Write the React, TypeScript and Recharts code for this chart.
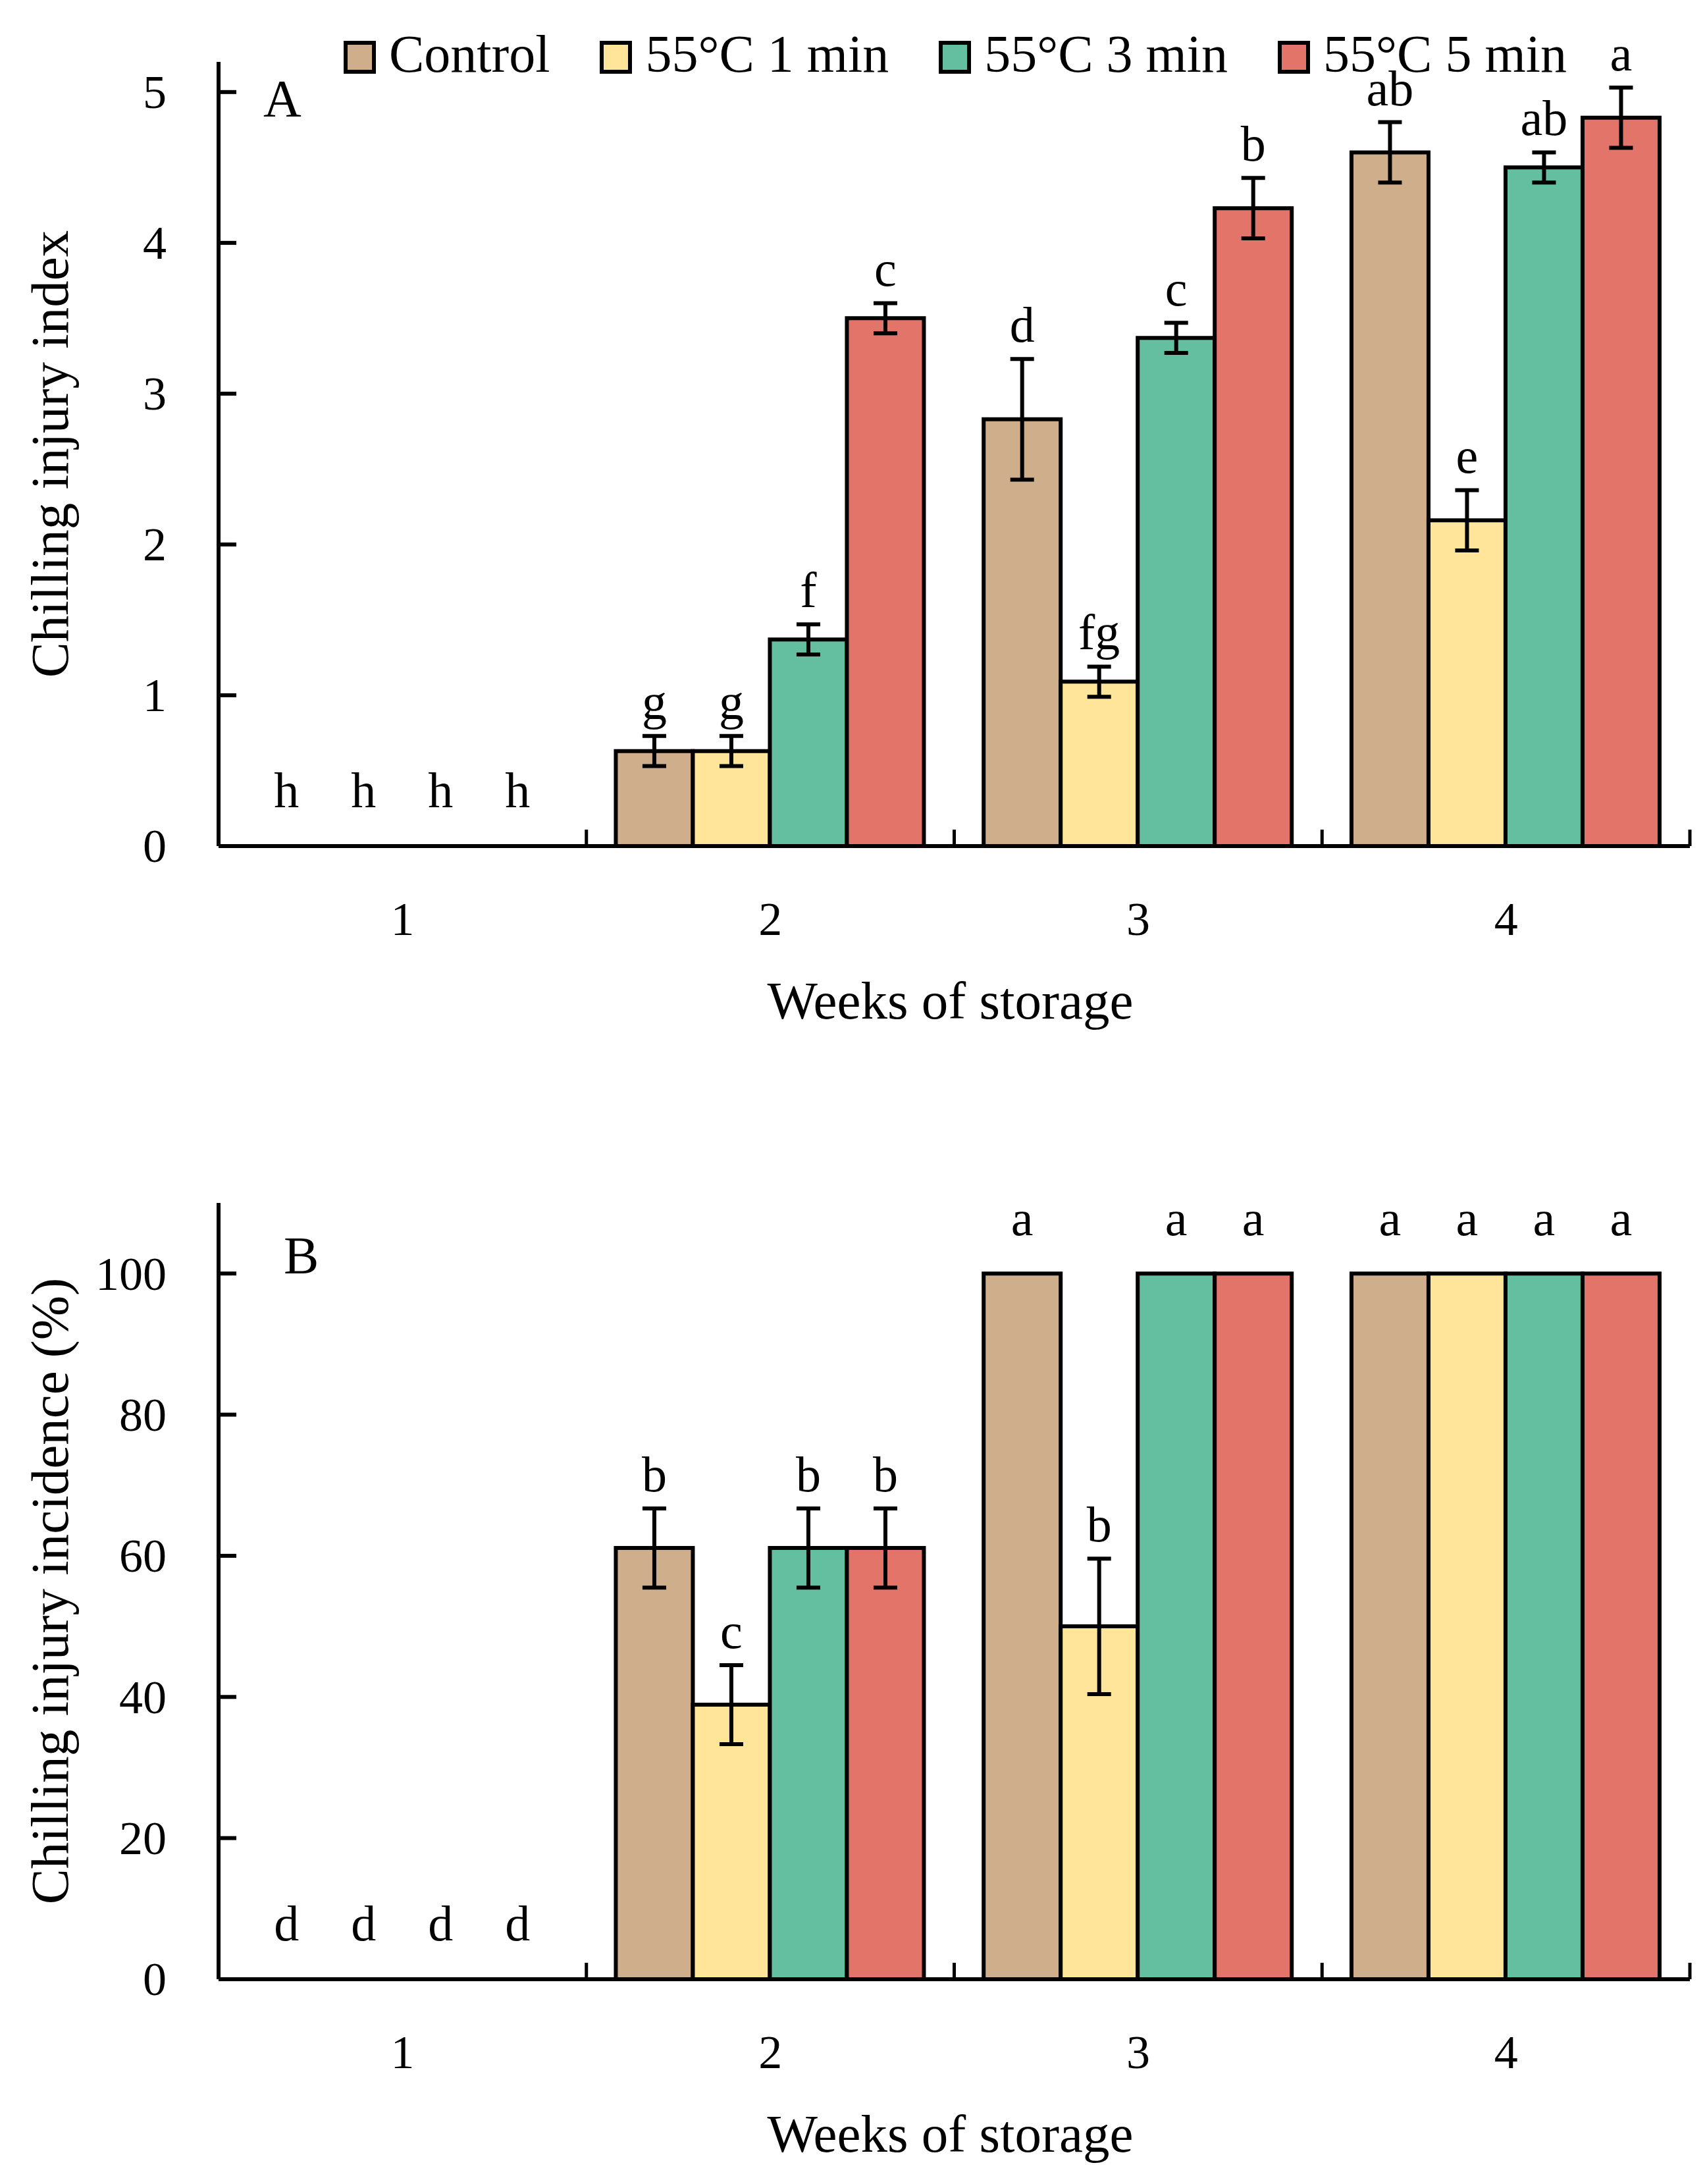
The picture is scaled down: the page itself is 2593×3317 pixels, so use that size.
import React from 'react'
import { BarChart, Bar, Cell, XAxis, YAxis, ErrorBar, LabelList, Legend } from 'recharts'

// categories and series
const weeks = ['1', '2', '3', '4']
const treatments = ['Control', '55°C 1 min', '55°C 3 min', '55°C 5 min']

// A: chilling injury index (mean, SE, letters)
const indexControl = [0, 0.63, 2.83, 4.6]
const index1min = [0, 0.63, 1.09, 2.16]
const index3min = [0, 1.37, 3.37, 4.5]
const index5min = [0, 3.5, 4.23, 4.83]
const indexErrControl = [0, 0.1, 0.4, 0.2]
const indexErr1min = [0, 0.1, 0.1, 0.2]
const indexErr3min = [0, 0.1, 0.1, 0.1]
const indexErr5min = [0, 0.1, 0.2, 0.2]
const indexLetControl = ['h', 'g', 'd', 'ab']
const indexLet1min = ['h', 'g', 'fg', 'e']
const indexLet3min = ['h', 'f', 'c', 'ab']
const indexLet5min = ['h', 'c', 'b', 'a']
const indexTicks = [0, 1, 2, 3, 4, 5]

// B: chilling injury incidence (%)
const incControl = [0, 61.1, 100, 100]
const inc1min = [0, 38.9, 50, 100]
const inc3min = [0, 61.1, 100, 100]
const inc5min = [0, 61.1, 100, 100]
const incErrControl = [0, 5.6, 0, 0]
const incErr1min = [0, 5.6, 9.6, 0]
const incErr3min = [0, 5.6, 0, 0]
const incErr5min = [0, 5.6, 0, 0]
const incLetControl = ['d', 'b', 'a', 'a']
const incLet1min = ['d', 'c', 'b', 'a']
const incLet3min = ['d', 'b', 'a', 'a']
const incLet5min = ['d', 'b', 'a', 'a']
const incTicks = [0, 20, 40, 60, 80, 100]

const COLORS = ['#CFAE8C', '#FEE599', '#64BEA0', '#E3746A']
const FONT = '"Liberation Serif", "Times New Roman", serif'

const W = 2593
const PLOT_LEFT = 332
const PLOT_RIGHT = 2567
const Y_AXIS_W = 200
const X_AXIS_H = 160
const BAND = (PLOT_RIGHT - PLOT_LEFT) / weeks.length

type Series = { values: number[]; errs: number[]; letters: string[] }

function buildRows(series: Series[]) {
  return weeks.map((w, i) => {
    const row: any = { week: w }
    series.forEach((s, k) => {
      row['v' + k] = s.values[i]
      row['e' + k] = s.errs[i]
    })
    return row
  })
}

function YTick({ x, y, payload }: any) {
  return (
    <g>
      <line x1={x} x2={x + 27} y1={y} y2={y} stroke="#000" strokeWidth={6} />
      <text x={x - 79} y={y} dy="0.34em" textAnchor="end" fontSize={72} fontFamily={FONT} fill="#000">
        {payload.value}
      </text>
    </g>
  )
}

function XTick({ x, y, payload }: any) {
  const right = x + BAND / 2
  return (
    <g>
      <line x1={right} x2={right} y1={y} y2={y - 25} stroke="#000" strokeWidth={5} />
      <text x={x} y={y + 135} textAnchor="middle" fontSize={72} fontFamily={FONT} fill="#000">
        {payload.value}
      </text>
    </g>
  )
}

// significance letter above each bar (or above its error bar)
function letterLabel(s: Series) {
  return (props: any) => {
    const vb = props.viewBox ?? props
    const cx = vb.x + vb.width / 2
    const i = Math.min(weeks.length - 1, Math.max(0, Math.floor((cx - PLOT_LEFT) / BAND)))
    const v = s.values[i]
    const e = s.errs[i]
    const h = Math.abs(Number(vb.height) || 0)
    const errPx = v > 0 ? (e * h) / v : 0
    const gap = e > 0 ? 26 : 58
    return (
      <text x={cx} y={vb.y - errPx - gap} textAnchor="middle" fontSize={76} fontFamily={FONT} fill="#000">
        {s.letters[i]}
      </text>
    )
  }
}

function LegendContent() {
  return (
    <div style={{ display: 'flex', alignItems: 'center', height: 50, fontFamily: FONT, fontSize: 80, color: '#000', whiteSpace: 'nowrap' }}>
      {treatments.map((name, i) => (
        <div key={name} style={{ display: 'flex', alignItems: 'center', marginRight: i < treatments.length - 1 ? 76 : 0 }}>
          <span style={{ display: 'inline-block', width: 37, height: 38, background: COLORS[i], border: '6px solid #000', marginRight: 20 }} />
          <span style={{ lineHeight: '50px', position: 'relative', top: -5 }}>{name}</span>
        </div>
      ))}
    </div>
  )
}

interface PanelProps {
  series: Series[]
  domain: [number, number]
  ticks: number[]
  yTitle: string
  tag: string
  tagX: number
  tagY: number
  height: number
  plotTop: number
  plotBottom: number
  legend?: boolean
}

function Panel({ series, domain, ticks, yTitle, tag, tagX, tagY, height, plotTop, plotBottom, legend }: PanelProps) {
  const rows = buildRows(series)
  const midY = (plotTop + plotBottom) / 2
  return (
    <BarChart
      width={W}
      height={height}
      data={rows}
      margin={{ top: plotTop, right: W - PLOT_RIGHT, bottom: height - plotBottom - X_AXIS_H, left: PLOT_LEFT - Y_AXIS_W }}
      barCategoryGap="8%"
      barGap={0}
    >
      <XAxis
        dataKey="week"
        height={X_AXIS_H}
        axisLine={{ stroke: '#000', strokeWidth: 6 }}
        tickLine={false}
        tickSize={0}
        tickMargin={0}
        interval={0}
        tick={(p: any) => <XTick {...p} />}
      />
      <YAxis
        type="number"
        width={Y_AXIS_W}
        domain={domain}
        ticks={ticks}
        interval={0}
        allowDataOverflow
        axisLine={{ stroke: '#000', strokeWidth: 6 }}
        tickLine={false}
        tickSize={0}
        tickMargin={0}
        tick={(p: any) => <YTick {...p} />}
      />
      {series.map((s, k) => (
        <Bar
          key={k}
          dataKey={'v' + k}
          name={treatments[k]}
          fill={COLORS[k]}
          stroke="#000"
          strokeWidth={6}
          minPointSize={1}
          isAnimationActive={false}
        >
          {s.values.map((v, i) => (
            <Cell key={i} fill={v > 0 ? COLORS[k] : 'none'} stroke={v > 0 ? '#000' : 'none'} />
          ))}
          <ErrorBar dataKey={'e' + k} width={18} strokeWidth={6} stroke="#000" direction="y" />
          <LabelList dataKey={'v' + k} content={letterLabel(s)} />
        </Bar>
      ))}
      {legend && (
        <Legend
          layout="horizontal"
          verticalAlign="middle"
          align="center"
          wrapperStyle={{ left: 522, top: 62, width: 'auto', height: 50 }}
          content={() => <LegendContent />}
        />
      )}
      <text x={tagX} y={tagY} fontSize={80} fontFamily={FONT} fill="#000">{tag}</text>
      <text
        x={103}
        y={midY}
        transform={`rotate(-90, 103, ${midY})`}
        textAnchor="middle"
        fontSize={81}
        fontFamily={FONT}
        fill="#000"
      >
        {yTitle}
      </text>
      <text x={(PLOT_LEFT + PLOT_RIGHT) / 2 - 6} y={plotBottom + 262} textAnchor="middle" fontSize={81} fontFamily={FONT} fill="#000">
        Weeks of storage
      </text>
    </BarChart>
  )
}

const indexSeries: Series[] = [
  { values: indexControl, errs: indexErrControl, letters: indexLetControl },
  { values: index1min, errs: indexErr1min, letters: indexLet1min },
  { values: index3min, errs: indexErr3min, letters: indexLet3min },
  { values: index5min, errs: indexErr5min, letters: indexLet5min },
]

const incSeries: Series[] = [
  { values: incControl, errs: incErrControl, letters: incLetControl },
  { values: inc1min, errs: incErr1min, letters: incLet1min },
  { values: inc3min, errs: incErr3min, letters: incLet3min },
  { values: inc5min, errs: incErr5min, letters: incLet5min },
]

export default function App() {
  return (
    <div style={{ position: 'absolute', left: 0, top: 0, width: W, height: 3317, background: '#fff' }}>
      <div style={{ position: 'absolute', left: 0, top: 0 }}>
        <Panel
          series={indexSeries}
          domain={[0, 5.2]}
          ticks={indexTicks}
          yTitle="Chilling injury index"
          tag="A"
          tagX={400}
          tagY={177}
          height={1659}
          plotTop={94}
          plotBottom={1285}
          legend
        />
      </div>
      <div style={{ position: 'absolute', left: 0, top: 1659 }}>
        <Panel
          series={incSeries}
          domain={[0, 110]}
          ticks={incTicks}
          yTitle="Chilling injury incidence (%)"
          tag="B"
          tagX={431}
          tagY={275}
          height={1658}
          plotTop={168}
          plotBottom={1347}
        />
      </div>
    </div>
  )
}
